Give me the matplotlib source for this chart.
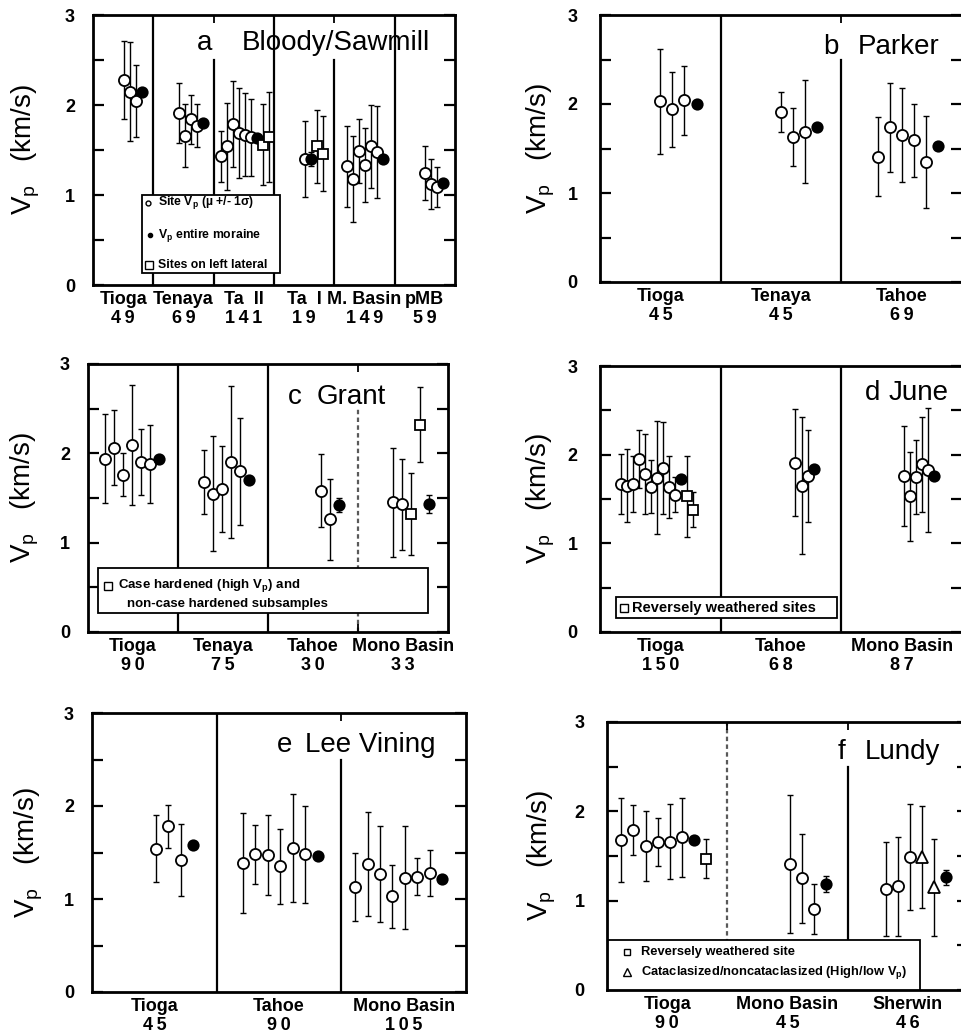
import matplotlib
matplotlib.use("Agg")
import matplotlib.pyplot as plt
from matplotlib.patches import Rectangle

plt.rcParams['font.family'] = ['Liberation Sans', 'DejaVu Sans']
plt.rcParams['mathtext.fontset'] = 'custom'
plt.rcParams['mathtext.rm'] = 'Liberation Sans'
plt.rcParams['mathtext.it'] = 'Liberation Sans'
plt.rcParams['mathtext.bf'] = 'Liberation Sans:bold'

# ---- data: site mean Vp (km/s), 1 sigma, marker kind per site
# kinds: o = site, f = entire moraine, s = square subset, t = triangle subset

# a  Bloody/Sawmill
a_groups = ['Tioga', 'Tenaya', 'Ta  II', 'Ta  I', 'M. Basin', 'pMB']
a_n = [49, 69, 141, 19, 149, 59]
a_mean = [[2.28, 2.15, 2.04, 2.15],
          [1.91, 1.66, 1.84, 1.77, 1.80],
          [1.43, 1.54, 1.79, 1.69, 1.67, 1.64, 1.63, 1.56, 1.64],
          [1.40, 1.40, 1.54, 1.46],
          [1.32, 1.18, 1.49, 1.33, 1.54, 1.48, 1.40],
          [1.24, 1.12, 1.09, 1.13]]
a_sd = [[0.43, 0.55, 0.40, 0.03],
        [0.33, 0.35, 0.27, 0.24, 0.03],
        [0.28, 0.48, 0.48, 0.50, 0.46, 0.43, 0.03, 0.45, 0.50],
        [0.42, 0.08, 0.41, 0.42],
        [0.45, 0.48, 0.36, 0.41, 0.46, 0.51, 0.03],
        [0.30, 0.28, 0.22, 0.03]]
a_kind = ['ooof', 'oooof', 'oooooofss', 'ofss', 'oooooof', 'ooof']

# b  Parker
b_groups = ['Tioga', 'Tenaya', 'Tahoe']
b_n = [45, 45, 69]
b_mean = [[2.03, 1.94, 2.04, 2.00],
          [1.91, 1.63, 1.69, 1.74],
          [1.41, 1.74, 1.65, 1.59, 1.35, 1.53]]
b_sd = [[0.59, 0.42, 0.39, 0.03],
        [0.22, 0.33, 0.58, 0.03],
        [0.44, 0.50, 0.53, 0.41, 0.52, 0.03]]
b_kind = ['ooof', 'ooof', 'ooooof']

# c  Grant
c_groups = ['Tioga', 'Tenaya', 'Tahoe', 'Mono Basin']
c_n = [90, 75, 30, 33]
c_mean = [[1.94, 2.06, 1.76, 2.09, 1.90, 1.88, 1.94],
          [1.68, 1.55, 1.60, 1.90, 1.80, 1.70],
          [1.58, 1.26, 1.42],
          [1.45, 1.43, 1.32, 2.32, 1.43]]
c_sd = [[0.50, 0.42, 0.24, 0.67, 0.37, 0.44, 0.03],
        [0.36, 0.64, 0.48, 0.85, 0.60, 0.03],
        [0.41, 0.45, 0.08],
        [0.61, 0.51, 0.46, 0.42, 0.10]]
c_kind = ['oooooof', 'ooooof', 'oof', 'oossf']

# d  June
d_groups = ['Tioga', 'Tahoe', 'Mono Basin']
d_n = [150, 68, 87]
d_mean = [[1.67, 1.65, 1.67, 1.95, 1.78, 1.64, 1.74, 1.85, 1.64, 1.55, 1.72, 1.53, 1.38],
          [1.91, 1.65, 1.76, 1.84],
          [1.76, 1.53, 1.75, 1.89, 1.83, 1.76]]
d_sd = [[0.34, 0.41, 0.32, 0.33, 0.45, 0.30, 0.64, 0.52, 0.35, 0.20, 0.03, 0.46, 0.20],
        [0.60, 0.77, 0.52, 0.03],
        [0.56, 0.50, 0.42, 0.54, 0.70, 0.03]]
d_kind = ['oooooooooofss', 'ooof', 'ooooof']

# e  Lee Vining
e_groups = ['Tioga', 'Tahoe', 'Mono Basin']
e_n = [45, 90, 105]
e_mean = [[1.54, 1.78, 1.42, 1.58],
          [1.39, 1.48, 1.47, 1.35, 1.55, 1.48, 1.46],
          [1.13, 1.38, 1.27, 1.03, 1.23, 1.24, 1.28, 1.22]]
e_sd = [[0.36, 0.23, 0.39, 0.03],
        [0.54, 0.32, 0.43, 0.40, 0.58, 0.52, 0.03],
        [0.37, 0.56, 0.52, 0.34, 0.55, 0.20, 0.25, 0.03]]
e_kind = ['ooof', 'oooooof', 'ooooooof']

# f  Lundy
f_groups = ['Tioga', 'Mono Basin', 'Sherwin']
f_n = [90, 45, 46]
f_mean = [[1.68, 1.79, 1.61, 1.66, 1.66, 1.71, 1.68, 1.47],
          [1.41, 1.25, 0.91, 1.19],
          [1.13, 1.16, 1.49, 1.49, 1.15, 1.26]]
f_sd = [[0.47, 0.28, 0.39, 0.27, 0.42, 0.44, 0.03, 0.22],
        [0.77, 0.50, 0.28, 0.09],
        [0.53, 0.55, 0.59, 0.57, 0.54, 0.08]]
f_kind = ['oooooofs', 'ooof', 'ooottf']

W, H = 961, 1036
fig = plt.figure(figsize=(W / 100, H / 100), dpi=100)


def px_axes(l, t, r, b):
    return fig.add_axes([l / W, 1 - b / H, (r - l) / W, (b - t) / H])


MARK = {'o': dict(marker='o', mfc='white', ms=8.0),
        'f': dict(marker='o', mfc='black', ms=7.5),
        's': dict(marker='s', mfc='white', ms=7.5),
        't': dict(marker='^', mfc='white', ms=8.5)}


def spaced(n):
    # the scanned sample counts are printed with loose digit spacing
    return '\u2009'.join(str(n))


def draw_panel(ax, groups, counts, means, sds, kinds, ends, dx,
               gapped=(), dotted=(), label_x=-0.14, ypad=13):
    ng = len(groups)
    ax.set_xlim(0, ng)
    ax.set_ylim(0, 3)
    if not isinstance(ends, (list, tuple)):
        ends = [ends] * ng
    for g in range(ng):
        n = len(means[g])
        for k in range(n):
            x = g + ends[g] - (n - 1 - k) * dx
            ax.errorbar(x, means[g][k], yerr=sds[g][k], fmt='none', ecolor='k',
                        elinewidth=1.0, capsize=2.5, capthick=1.0, zorder=2)
            ax.plot(x, means[g][k], mec='k', mew=1.3, ls='none', zorder=3,
                    **MARK[kinds[g][k]])
    for g in range(1, ng):
        top = 2.5 if g in gapped else 3
        ls = (0, (2, 1.5)) if g in dotted else '-'
        col = '0.35' if g in dotted else 'k'
        ax.plot([g, g], [0, top], color=col, lw=1.6, ls=ls, zorder=1)
    for s in ax.spines.values():
        s.set_linewidth(2.0)
    ax.set_yticks([0, 1, 2, 3])
    ax.set_yticklabels(['0', '1', '2', '3'], fontweight='bold', fontsize=13)
    ax.set_yticks([0.5, 1.5, 2.5], minor=True)
    ax.tick_params(axis='y', which='both', direction='in', length=8, width=1.6,
                   left=True, right=True, pad=ypad)
    ax.set_xticks([g + 0.5 for g in range(ng)])
    ax.set_xticklabels([f'{nm}\n{spaced(c)}' for nm, c in zip(groups, counts)],
                       fontweight='bold', fontsize=13, linespacing=1.2)
    ax.tick_params(axis='x', which='major', length=0, pad=4)
    ax.set_xticks(list(range(1, ng)), minor=True)
    ax.tick_params(axis='x', which='minor', direction='in', length=6, width=1.3,
                   top=True, bottom=True)
    ax.set_ylabel(r'V$_{\rm p}$   (km/s)', fontsize=20)
    ax.yaxis.set_label_coords(label_x, 0.5)


def title(ax, x0, x1, y, letter, name):
    ax.text(x0, y, letter, transform=ax.transAxes, fontsize=20, va='center', zorder=6)
    ax.text(x1, y, name, transform=ax.transAxes, fontsize=20, va='center', zorder=6)


def legend_box(ax, x0, y0, x1, y1):
    ax.add_patch(Rectangle((x0, y0), x1 - x0, y1 - y0, transform=ax.transAxes,
                           fc='white', ec='k', lw=1.3, zorder=5))


def legend_item(ax, x, y, kind, tx, text, ms=None, fs=9.5):
    st = dict(MARK[kind])
    if ms is not None:
        st['ms'] = ms
    ax.plot([x], [y], transform=ax.transAxes, mec='k', mew=1.0, ls='none',
            zorder=6, clip_on=False, **st)
    ax.text(tx, y, text, transform=ax.transAxes, va='center', fontsize=fs,
            fontweight='bold', zorder=6)


# a
ax = px_axes(93, 15, 455, 285)
draw_panel(ax, a_groups, a_n, a_mean, a_sd, a_kind,
           [0.81, 0.82, 0.92, 0.81, 0.81, 0.80], 0.1, gapped=(2, 4))
title(ax, 0.287, 0.41, 0.896, 'a', 'Bloody/Sawmill')
legend_box(ax, 0.135, 0.044, 0.517, 0.333)
legend_item(ax, 0.152, 0.305, 'o', 0.18, r'Site V$_{\bf p}$ (µ +/- 1σ)', ms=3.5, fs=8.8)
legend_item(ax, 0.157, 0.185, 'f', 0.18, r'V$_{\bf p}$ entire moraine', ms=3, fs=8.8)
legend_item(ax, 0.155, 0.074, 's', 0.18, 'Sites on left lateral', ms=6, fs=8.8)

# b
ax = px_axes(600, 15, 962, 282)
draw_panel(ax, b_groups, b_n, b_mean, b_sd, b_kind, 0.80, 0.1, gapped=(2,),
           label_x=-0.12, ypad=16)
title(ax, 0.616, 0.713, 0.88, 'b', 'Parker')

# c
ax = px_axes(88, 364, 448, 632)
draw_panel(ax, c_groups, c_n, c_mean, c_sd, c_kind, 0.79, 0.1, gapped=(3,),
           dotted=(3,), label_x=-0.13)
title(ax, 0.556, 0.636, 0.877, 'c', 'Grant')
legend_box(ax, 0.028, 0.071, 0.944, 0.239)
legend_item(ax, 0.056, 0.172, 's', 0.082, r'Case hardened (high V$_{\bf p}$) and', ms=6)
ax.text(0.108, 0.105, 'non-case hardened subsamples', transform=ax.transAxes,
        va='center', fontsize=9.5, fontweight='bold', zorder=6)

# d
ax = px_axes(600, 366, 962, 632)
draw_panel(ax, d_groups, d_n, d_mean, d_sd, d_kind, 0.77, 0.05,
           label_x=-0.12, ypad=16)
title(ax, 0.732, 0.796, 0.899, 'd', 'June')
legend_box(ax, 0.045, 0.052, 0.655, 0.131)
legend_item(ax, 0.067, 0.092, 's', 0.088, 'Reversely weathered sites', ms=6, fs=10.5)

# e
ax = px_axes(92, 713, 466, 992)
draw_panel(ax, e_groups, e_n, e_mean, e_sd, e_kind, 0.81, 0.1, gapped=(2,),
           label_x=-0.125)
title(ax, 0.495, 0.57, 0.885, 'e', 'Lee Vining')

# f
ax = px_axes(607, 722, 968, 990)
draw_panel(ax, f_groups, f_n, f_mean, f_sd, f_kind, 0.82, 0.1, gapped=(2,),
           dotted=(1,), label_x=-0.135, ypad=16)
title(ax, 0.64, 0.715, 0.888, 'f', 'Lundy')
legend_box(ax, 0.003, 0.0, 0.867, 0.187)
legend_item(ax, 0.055, 0.142, 's', 0.095, 'Reversely weathered site', ms=5, fs=9.3)
legend_item(ax, 0.055, 0.067, 't', 0.095,
            r'Cataclasized/noncataclasized (High/low V$_{\bf p}$)', ms=6, fs=9.3)

fig.savefig('out.png', dpi=100)
